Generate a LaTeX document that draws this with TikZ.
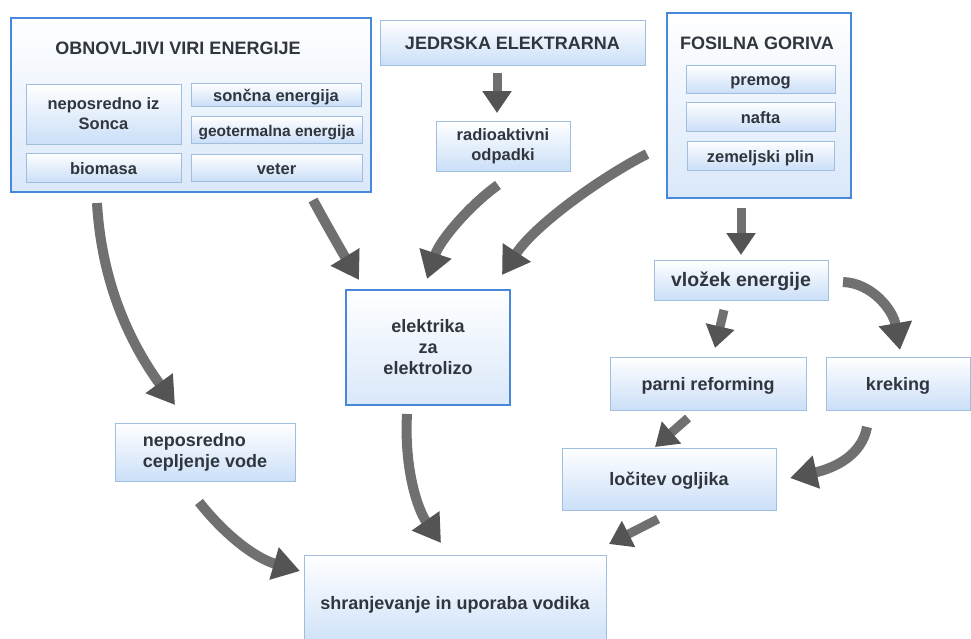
\documentclass[tikz,border=0pt]{standalone}
\usepackage{fontspec}
\setmainfont{Liberation Sans}
\usetikzlibrary{arrows.meta}
\definecolor{boxblue}{RGB}{203,223,248}
\definecolor{framefill}{RGB}{218,232,250}
\definecolor{boxline}{RGB}{160,190,222}
\definecolor{frameblue}{RGB}{72,136,218}
\definecolor{txt}{RGB}{48,54,62}
\definecolor{arrgray}{RGB}{112,112,112}
\definecolor{arrdark}{RGB}{84,84,84}
\tikzset{
  box/.style={draw=boxline, line width=1pt, top color=white, bottom color=boxblue,
    text=txt, font=\bfseries\fontsize{18}{21}\selectfont, align=center, inner sep=0pt},
  smallbox/.style={box, font=\bfseries\fontsize{16.5}{20}\selectfont},
  oneline/.style={text height=15.5pt, text depth=2pt},
  framebox/.style={draw=frameblue, line width=2.2pt, top color=white, bottom color=framefill, inner sep=0pt},
  bluebox/.style={box, draw=frameblue, line width=2.4pt, bottom color=framefill},
  title/.style={text=txt, font=\bfseries\fontsize{18}{21}\selectfont, inner sep=0pt},
  arr/.style={line width=10pt, draw=arrgray,
    -{Triangle[width=32pt,length=27pt,color=arrdark]}},
  arrs/.style={line width=9pt, draw=arrgray,
    -{Triangle[width=28pt,length=22pt,color=arrdark]}},
}
\begin{document}
\begin{tikzpicture}[x=1pt,y=-1pt]
\useasboundingbox (0,0) rectangle (971,638);
\fill[white] (0,0) rectangle (971,638);

% renewable sources
\node[framebox, minimum width=360pt, minimum height=174pt] (obn) at (191,105) {};
\node[title, oneline] (obnt) at (178,48) {OBNOVLJIVI VIRI ENERGIJE};
\node[smallbox, minimum width=155pt, minimum height=60pt] (sonca) at (103.5,114) {neposredno iz\\Sonca};
\node[smallbox, oneline, minimum width=170pt, minimum height=23pt] (soncna) at (276,94.5) {sončna energija};
\node[smallbox, oneline, minimum width=171pt, minimum height=27pt, font=\bfseries\fontsize{15.5}{18}\selectfont] (geo) at (276.5,129.5) {geotermalna energija};
\node[smallbox, oneline, minimum width=155pt, minimum height=29pt] (bio) at (103.5,167.5) {biomasa};
\node[smallbox, oneline, minimum width=171pt, minimum height=27pt] (veter) at (276.5,167.5) {veter};

% nuclear
\node[box, oneline, minimum width=265pt, minimum height=45pt] (jedr) at (512.5,42.5) {JEDRSKA ELEKTRARNA};
\node[smallbox, minimum width=134pt, minimum height=50pt] (radio) at (503,146) {radioaktivni\\odpadki};

% fossil
\node[framebox, minimum width=184pt, minimum height=185pt] (fos) at (759,105.5) {};
\node[title, oneline] (fost) at (757,43) {FOSILNA GORIVA};
\node[smallbox, oneline, minimum width=149pt, minimum height=28pt] (premog) at (760.5,79) {premog};
\node[smallbox, oneline, minimum width=149pt, minimum height=29pt] (nafta) at (760.5,116.5) {nafta};
\node[smallbox, oneline, minimum width=147pt, minimum height=29pt] (plin) at (760.5,155.5) {zemeljski plin};

% middle
\node[bluebox, minimum width=164pt, minimum height=115pt] (elek) at (428,347.5) {elektrika\\za\\elektrolizo};
\node[box, oneline, minimum width=174pt, minimum height=40pt, font=\bfseries\fontsize{19.5}{22}\selectfont] (vlozek) at (741,280) {vložek energije};
\node[box, oneline, minimum width=196pt, minimum height=53pt] (parni) at (708,383.5) {parni reforming};
\node[box, oneline, minimum width=144pt, minimum height=53pt] (krek) at (898,383.5) {kreking};
\node[box, minimum width=180pt, minimum height=58pt, align=left] (ceplj) at (205,452) {neposredno\\cepljenje vode};
\node[box, oneline, minimum width=214pt, minimum height=62pt] (locit) at (669,479) {ločitev ogljika};
\node[box, oneline, minimum width=302pt, minimum height=96pt] (shran) at (455,603) {shranjevanje in uporaba vodika};

% arrow end points
\coordinate (a1s) at (97,203);   \coordinate (a1e) at (175,405);
\coordinate (a2s) at (313,200);  \coordinate (a2e) at (359,280);
\coordinate (a3s) at (498,185);  \coordinate (a3e) at (427,279);
\coordinate (a4s) at (647,154);  \coordinate (a4e) at (502,275);
\coordinate (a5s) at (497,73);   \coordinate (a5e) at (497,113);
\coordinate (a6s) at (741,208);  \coordinate (a6e) at (741,255);
\coordinate (a7s) at (724,310);  \coordinate (a7e) at (715,348);
\coordinate (a8s) at (843,282);  \coordinate (a8e) at (900,350);
\coordinate (a9s) at (688,418);  \coordinate (a9e) at (655,447);
\coordinate (a10s) at (867,427); \coordinate (a10e) at (790,478);
\coordinate (a11s) at (658,519); \coordinate (a11e) at (609,544);
\coordinate (a12s) at (407,414); \coordinate (a12e) at (441,543);
\coordinate (a13s) at (199,502); \coordinate (a13e) at (300,571);

% arrows
\draw[arr] (a1s) .. controls (102,290) and (135,350) .. (a1e);
\draw[arr] (a2s) .. controls (325,222) and (342,252) .. (a2e);
\draw[arr] (a3s) .. controls (470,205) and (440,240) .. (a3e);
\draw[arr] (a4s) .. controls (600,178) and (535,225) .. (a4e);
\draw[arrs] (a5s) -- (a5e);
\draw[arrs] (a6s) -- (a6e);
\draw[arrs] (a7s) -- (a7e);
\draw[arr] (a8s) .. controls (872,283) and (893,310) .. (a8e);
\draw[arrs] (a9s) -- (a9e);
\draw[arr] (a10s) .. controls (862,455) and (835,468) .. (a10e);
\draw[arrs] (a11s) -- (a11e);
\draw[arr] (a12s) .. controls (404,470) and (418,510) .. (a12e);
\draw[arr] (a13s) .. controls (225,535) and (255,558) .. (a13e);
\end{tikzpicture}
\end{document}
